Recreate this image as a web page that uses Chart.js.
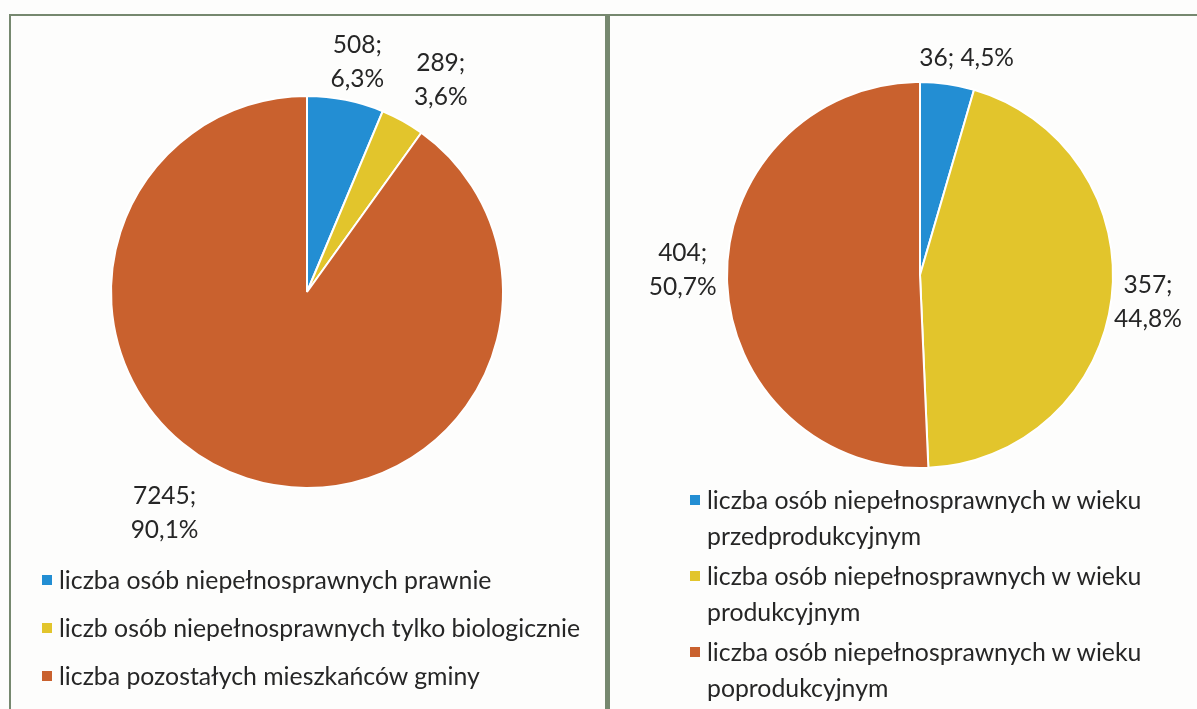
<!DOCTYPE html>
<html>
<head>
<meta charset="utf-8">
<script src="https://cdn.jsdelivr.net/npm/chart.js@4.4.1/dist/chart.umd.min.js"></script>
<style>
  html, body { margin:0; padding:0; background:#fdfdfc; }
  body { width:1197px; height:709px; position:relative; overflow:hidden; font-family: Lato, "Open Sans", sans-serif; color:#262626; }
  .box { position:absolute; top:14px; box-sizing:border-box; border-color:#76886f; border-style:solid; }
  #boxL { left:9px; width:598px; height:720px; border-width:2px 2px 0 2px; }
  #boxR { left:607px; width:620px; height:720px; border-width:2px 0 0 3px; }
  canvas { position:absolute; }
  .legend { position:absolute; font-size:24.8px; }
  .legend .item { position:relative; padding-left:17px; }
  .legend .sw { position:absolute; left:0; width:10px; height:10px; }
  #legL { left:42px; top:564px; }
  #legL .item { height:48px; line-height:32px; white-space:nowrap; }
  #legL .sw { top:11px; }
  #legR { left:690px; top:482px; width:470px; }
  #legR .item { line-height:36px; margin-bottom:4px; }
  #legR .sw { top:13px; }
</style>
</head>
<body>
<div class="box" id="boxL"></div>
<div class="box" id="boxR"></div>
<canvas id="cL" width="595" height="695" style="left:10px;top:14px;width:595px;height:695px"></canvas>
<canvas id="cR" width="588" height="695" style="left:609px;top:14px;width:588px;height:695px"></canvas>
<div class="legend" id="legL"></div>
<div class="legend" id="legR"></div>
<script>
// ---- data ----
const leftCategories = ['liczba osób niepełnosprawnych prawnie', 'liczb osób niepełnosprawnych tylko biologicznie', 'liczba pozostałych mieszkańców gminy'];
const leftValues = [508, 289, 7245];
const leftPercents = ['6,3%', '3,6%', '90,1%'];

const rightCategories = ['liczba osób niepełnosprawnych w wieku przedprodukcyjnym', 'liczba osób niepełnosprawnych w wieku produkcyjnym', 'liczba osób niepełnosprawnych w wieku poprodukcyjnym'];
const rightValues = [36, 357, 404];
const rightPercents = ['4,5%', '44,8%', '50,7%'];

// ---- style ----
const sliceColors = ['#238ed3', '#e2c52c', '#c9612e'];
const labelFont = '24.5px Lato, "Open Sans", sans-serif';
const labelColor = '#262626';
// label placement: angle shift (deg) from slice middle, distance factor of radius, lines
const leftPlacement = [{da: 1, k: 1.2, one: false}, {da: 3, k: 1.28, one: false}, {da: 15, k: 1.34, one: false}];
const rightPlacement = [{da: 4, k: 1.15, one: true}, {da: 0, k: 1.19, one: false}, {da: 2.5, k: 1.23, one: false}];

const labelPlugin = {
  id: 'outLabels',
  afterDatasetsDraw(chart, args, opts) {
    const ctx = chart.ctx;
    const meta = chart.getDatasetMeta(0);
    ctx.save();
    ctx.font = labelFont;
    ctx.fillStyle = labelColor;
    ctx.textAlign = 'center';
    ctx.textBaseline = 'middle';
    meta.data.forEach((arc, i) => {
      const p = opts.placement[i];
      const mid = (arc.startAngle + arc.endAngle) / 2 + p.da * Math.PI / 180;
      const r = arc.outerRadius * p.k;
      const x = arc.x + Math.cos(mid) * r;
      const y = arc.y + Math.sin(mid) * r;
      const v = chart.data.datasets[0].data[i];
      const pc = opts.percents[i];
      if (p.one) {
        ctx.fillText(v + '; ' + pc, x, y);
      } else {
        ctx.fillText(v + ';', x, y - 17);
        ctx.fillText(pc, x, y + 17);
      }
    });
    ctx.restore();
  }
};

function makePie(id, cats, vals, pcts, placement, padding) {
  return new Chart(document.getElementById(id), {
    type: 'pie',
    data: { labels: cats, datasets: [{ data: vals, backgroundColor: sliceColors, borderColor: '#ffffff', borderWidth: 2 }] },
    options: {
      responsive: false, animation: false,
      layout: { padding: padding },
      plugins: { legend: { display: false }, tooltip: { enabled: false }, outLabels: { placement: placement, percents: pcts } }
    },
    plugins: [labelPlugin]
  });
}

makePie('cL', leftCategories, leftValues, leftPercents, leftPlacement, {left: 100, right: 101, top: 81, bottom: 220});
makePie('cR', rightCategories, rightValues, rightPercents, rightPlacement, {left: 117, right: 83, top: 67, bottom: 240});

function makeLegend(id, cats) {
  const el = document.getElementById(id);
  cats.forEach((c, i) => {
    const d = document.createElement('div');
    d.className = 'item';
    const s = document.createElement('span');
    s.className = 'sw';
    s.style.background = sliceColors[i];
    d.appendChild(s);
    d.appendChild(document.createTextNode(c));
    el.appendChild(d);
  });
}
makeLegend('legL', leftCategories);
makeLegend('legR', rightCategories);
</script>
</body>
</html>
